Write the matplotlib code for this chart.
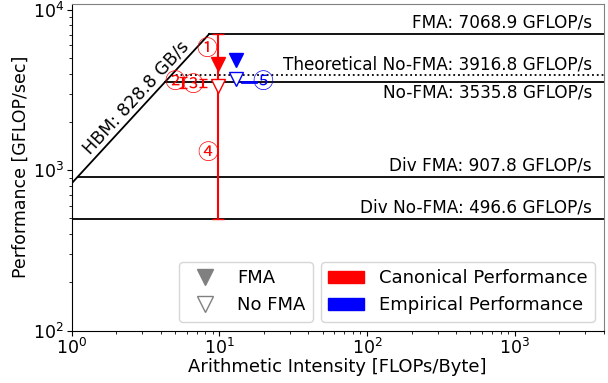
import matplotlib
matplotlib.use("Agg")
import matplotlib.pyplot as plt
import matplotlib.patches as mpatches
from matplotlib.lines import Line2D

plt.rcParams['font.family'] = ['DejaVu Sans', 'Noto Sans CJK SC']

# roofline ceilings (GFLOP/s) and bandwidth (GB/s)
hbm_bw = 828.8
roof_names = ["FMA", "Theoretical No-FMA", "No-FMA", "Div FMA", "Div No-FMA"]
roof_vals = [7068.9, 3916.8, 3535.8, 907.8, 496.6]
roof_styles = ['-', ':', '-', '-', '-']
label_below = [False, False, True, False, False]

# measured points: arithmetic intensity, FMA perf, No-FMA perf
canon_ai = 9.74
canon_perf = [4600, 3330]
emp_ai = 13.0
emp_perf = [4900, 3700]

# annotation gaps (x, y_low, y_high)
gap2 = [5.71, 3270, 3820]
gap3 = [7.68, 3310, 3730]
emp_gap_x = [14.3, 17.8]

# circled labels: text, x, y, color
circ_txt = ["①", "②", "③", "④", "⑤"]
circ_x = [8.17, 4.97, 6.57, 8.33, 19.5]
circ_y = [5710, 3535, 3405, 1288, 3535]
circ_col = ['red', 'red', 'red', 'red', 'blue']

xmin, xmax = 1, 4000
ymin, ymax = 100, 10900

fig = plt.figure(figsize=(6.08, 3.83), dpi=100)
ax = fig.add_subplot(111)
fig.subplots_adjust(left=0.118, right=0.993, bottom=0.137, top=0.99)

ax.set_xscale('log')
ax.set_yscale('log')
ax.set_xlim(xmin, xmax)
ax.set_ylim(ymin, ymax)

# memory roof
ridge = roof_vals[0] / hbm_bw
ax.plot([xmin, ridge], [hbm_bw * xmin, roof_vals[0]], color='k', lw=1.3)
ax.text(2.72, 2850, "HBM: %.1f GB/s" % hbm_bw, rotation=47.3, fontsize=12.5,
        ha='center', va='center', rotation_mode='anchor')

for name, val, ls, below in zip(roof_names, roof_vals, roof_styles, label_below):
    x0 = max(val / hbm_bw, xmin)
    ax.plot([x0, xmax], [val, val], color='k', lw=1.3, ls=ls)
    if below:
        ax.text(3330, val * 0.975, "%s: %.1f GFLOP/s" % (name, val), fontsize=12.2,
                ha='right', va='top')
    else:
        ax.text(3330, val * 1.03, "%s: %.1f GFLOP/s" % (name, val), fontsize=12.2,
                ha='right', va='bottom')

# canonical (red)
ax.errorbar([canon_ai], [roof_vals[0]], yerr=[[roof_vals[0] - roof_vals[4]], [0]],
            fmt='none', ecolor='red', capsize=4, lw=1.5)
ax.errorbar([gap2[0]], [(gap2[1] + gap2[2]) / 2],
            yerr=[[(gap2[2] - gap2[1]) / 2], [(gap2[2] - gap2[1]) / 2]],
            fmt='none', ecolor='red', capsize=3, lw=1.5)
ax.errorbar([gap3[0]], [(gap3[1] + gap3[2]) / 2],
            yerr=[[(gap3[2] - gap3[1]) / 2], [(gap3[2] - gap3[1]) / 2]],
            fmt='none', ecolor='red', capsize=3, lw=1.5)
ax.plot([canon_ai], [canon_perf[0]], 'v', color='red', ms=10)
ax.plot([canon_ai], [canon_perf[1]], 'v', mfc='white', mec='red', ms=10, mew=1)

# empirical (blue)
ax.plot(emp_gap_x, [roof_vals[2], roof_vals[2]], color='blue', lw=2)
ax.plot([emp_ai], [emp_perf[0]], 'v', color='blue', ms=10)
ax.plot([emp_ai], [emp_perf[1]], 'v', mfc='white', mec='blue', ms=10, mew=1)

for t, x, y, c in zip(circ_txt, circ_x, circ_y, circ_col):
    ax.text(x, y, t, color=c, fontsize=15, ha='center', va='center',
            family=['Noto Sans CJK JP', 'DejaVu Sans'])

ax.set_xlabel("Arithmetic Intensity [FLOPs/Byte]", fontsize=13)
ax.set_ylabel("Performance [GFLOP/sec]", fontsize=12.5)
ax.xaxis.set_label_coords(0.5, -0.085)
ax.yaxis.set_label_coords(-0.079, 0.5)
ax.tick_params(axis='both', which='major', labelsize=12.5, pad=2)
for s in ['top', 'right']:
    ax.spines[s].set_color('0.5')

h1 = [Line2D([], [], ls='none', marker='v', color='gray', ms=11),
      Line2D([], [], ls='none', marker='v', mfc='white', mec='gray', ms=11, mew=1)]
leg1 = ax.legend(h1, ["FMA", "No FMA"], loc='lower right', fontsize=13,
                 bbox_to_anchor=(0.47, 0.0))
ax.add_artist(leg1)
h2 = [mpatches.Patch(color='red'), mpatches.Patch(color='blue')]
ax.legend(h2, ["Canonical Performance", "Empirical Performance"],
          loc='lower right', fontsize=13)

fig.savefig('out.png', dpi=100)
